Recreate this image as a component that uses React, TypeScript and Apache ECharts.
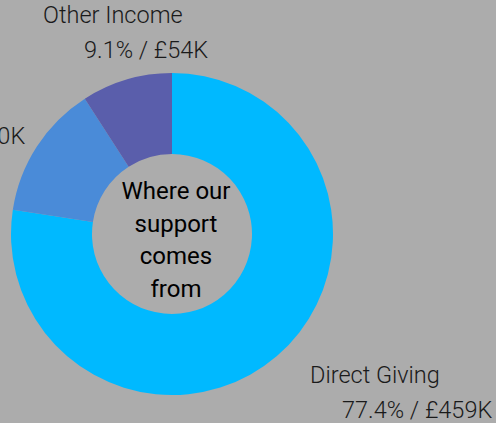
import React, { useEffect, useRef } from "react";
import * as echarts from "echarts";

const categories = ["Direct Giving", "Grants", "Other Income"];
const valuesK = [459, 80, 54];
const colors = ["#00b9ff", "#4a8bd8", "#5a5eab"];
const centerLines = ["Where our", "support", "comes", "from"];

// label block top-left positions and second-line indent (layout only)
const labelPos = [
  { x: 310, y: 357, indent: 32 },
  { x: -147, y: 83, indent: 35 },
  { x: 43, y: -3, indent: 41 },
];

export default function App() {
  const ref = useRef<HTMLDivElement>(null);
  useEffect(() => {
    document.body.style.margin = "0";
    document.body.style.background = "#acacac";
    const chart = echarts.init(ref.current!, null, { renderer: "svg" });
    chart.setOption({
      animation: false,
      backgroundColor: "#acacac",
      graphic: [
        {
          type: "text",
          x: 176,
          y: 175,
          style: {
            text: centerLines.join("\n"),
            fontFamily: "Roboto",
            fontSize: 24,
            lineHeight: 32.5,
            fill: "#000",
            align: "center",
            verticalAlign: "top",
          },
        },
      ],
      series: [
        {
          type: "pie",
          center: [172, 234],
          radius: [80, 161],
          startAngle: 90,
          clockwise: true,
          avoidLabelOverlap: false,
          percentPrecision: 1,
          labelLine: { show: false },
          emphasis: { disabled: true },
          data: categories.map((name, i) => ({
            name,
            value: valuesK[i],
            itemStyle: { color: colors[i] },
            label: {
              show: true,
              position: "outside",
              formatter: "{n|{b}}\n{v|{d}% / £{c}K}",
              rich: {
                n: {
                  fontFamily: "Roboto",
                  fontWeight: 300,
                  fontSize: 23.5,
                  lineHeight: 35,
                  color: "#1a1a1a",
                },
                v: {
                  fontFamily: "Roboto",
                  fontWeight: 300,
                  fontSize: 23.5,
                  lineHeight: 35,
                  color: "#1a1a1a",
                  padding: [0, 0, 0, labelPos[i].indent],
                },
              },
            },
          })),
          labelLayout: (p: any) => ({
            x: labelPos[p.dataIndex].x,
            y: labelPos[p.dataIndex].y,
            align: "left",
            verticalAlign: "top",
            hideOverlap: false,
          }),
        },
      ],
    });
    return () => chart.dispose();
  }, []);
  return <div ref={ref} style={{ width: 496, height: 423 }} />;
}
